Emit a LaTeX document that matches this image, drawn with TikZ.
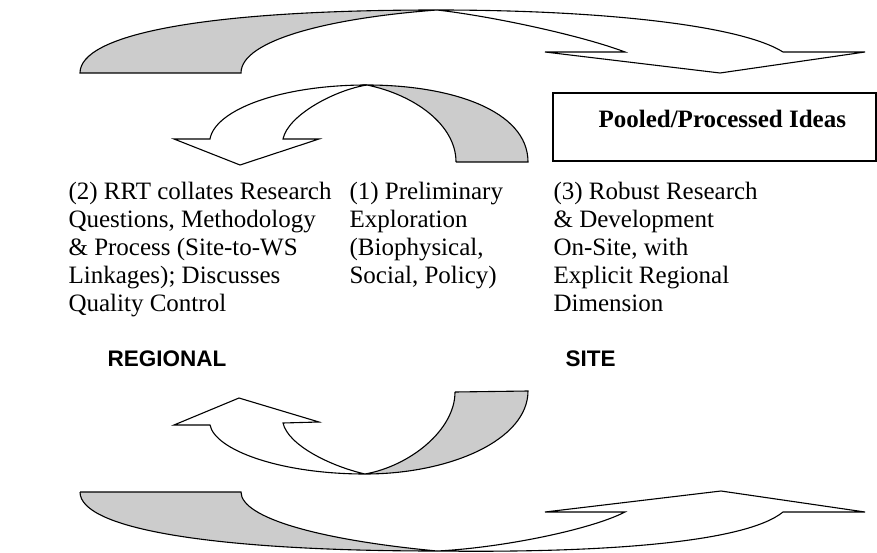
\documentclass[tikz,border=0pt]{standalone}
\usepackage{fontspec}
\setmainfont{Liberation Serif}
\newfontfamily\arialfont{Liberation Sans}
\begin{document}
\begin{tikzpicture}[x=1pt,y=-1pt,line width=1.1pt,line join=miter,
  back/.style={draw,fill=black!20},
  front/.style={draw,fill=white},
  note/.style={anchor=north west,inner sep=0pt,align=left,
    font=\fontsize{25}{28}\selectfont},
  side/.style={anchor=base west,inner sep=0pt,
    font=\arialfont\bfseries\fontsize{22.5}{26}\selectfont}]
\useasboundingbox (0,0) rectangle (877,553);
% top arrow, to the right
\draw[back] (80,73) .. controls (80,35) and (200,10) .. (437,10)
  .. controls (330,18) and (241,40) .. (241,73) -- cycle;
\draw[front] (437,10) .. controls (600,10) and (740,25) .. (783,52)
  -- (865,52) -- (720,73) -- (545,52) -- (625,52)
  .. controls (580,35) and (490,16) .. (437,10);
% small arrow, down to the left
\draw[back] (456,162) -- (528,162) .. controls (528,110) and (450,85) .. (367,85)
  .. controls (415,95) and (456,125) .. (456,162);
\draw[front] (367,85) .. controls (280,85) and (215,110) .. (210,139)
  -- (174,139) -- (240,165) -- (319,139) -- (283,139)
  .. controls (288,115) and (335,90) .. (367,85);
% small arrow, up to the left
\draw[back] (455,392) -- (528,391) .. controls (528,440) and (450,474) .. (365,474)
  .. controls (410,466) and (455,430) .. (455,392);
\draw[front] (365,474) .. controls (280,474) and (215,450) .. (210,425)
  -- (174,425) -- (239,398) -- (319,422) -- (283,423)
  .. controls (288,445) and (330,466) .. (365,474);
% bottom arrow, to the right
\draw[back] (80,492) -- (241,492) .. controls (241,518) and (320,540) .. (437,551)
  .. controls (220,551) and (80,530) .. (80,492);
\draw[front] (437,551) .. controls (600,553) and (745,543) .. (783,512)
  -- (865,512) -- (721,491) -- (545,512) -- (625,512)
  .. controls (590,530) and (500,548) .. (437,551);
% box
\draw (553,93) rectangle (876,161);
\node[anchor=base west,inner sep=0pt,font=\bfseries\fontsize{25}{28}\selectfont]
  (pooled) at (598,128) {Pooled/Processed Ideas};
% texts
\node[note] (rrt) at (68,182) {(2) RRT collates Research\\Questions, Methodology\\
  \& Process (Site-to-WS\\Linkages); Discusses\\Quality Control};
\node[note] (prelim) at (349,182) {(1) Preliminary\\Exploration\\(Biophysical,\\
  Social, Policy)};
\node[note] (robust) at (553,182) {(3) Robust Research\\\& Development\\On-Site, with\\
  Explicit Regional\\Dimension};
\node[side] (regional) at (107,366) {REGIONAL};
\node[side] (site) at (565,366) {SITE};
\end{tikzpicture}
\end{document}
